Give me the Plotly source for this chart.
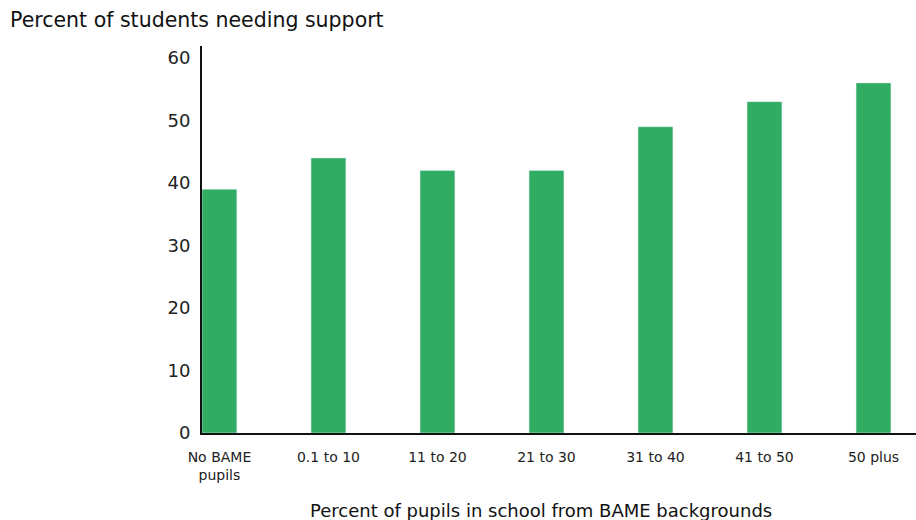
import plotly.graph_objects as go

categories = ["No BAME<br>pupils", "0.1 to 10", "11 to 20", "21 to 30", "31 to 40", "41 to 50", "50 plus"]
values = [39, 44, 42, 42, 49, 53, 56]
y_ticks = [0, 10, 20, 30, 40, 50, 60]

fig = go.Figure(go.Bar(
    x=categories, y=values, marker_color="#31ad63", width=0.32,
))

font_family = "DejaVu Sans"
L, T, B, W, H = 202, 46, 87, 916, 520
pw, ph = W - L, H - T - B

fig.update_layout(
    width=W, height=H,
    margin=dict(l=L, r=0, t=T, b=B),
    plot_bgcolor="white", paper_bgcolor="white",
    font=dict(family=font_family, color="#111"),
    showlegend=False,
    xaxis=dict(
        range=[-0.16, 6.39], showline=True, linecolor="#111", linewidth=2,
        showgrid=False, ticks="", tickfont=dict(size=14, color="#222"),
        ticklabelstandoff=10,
    ),
    yaxis=dict(
        range=[0, 61.9], showline=True, linecolor="#111", linewidth=2,
        showgrid=False, zeroline=False, ticks="", tickvals=y_ticks,
        tickfont=dict(size=18, color="#222"), ticklabelstandoff=6,
    ),
    annotations=[
        dict(text="Percent of students needing support",
             xref="paper", yref="paper", x=(8 - L) / pw, y=(H - 20 - B) / ph,
             showarrow=False, font=dict(size=20.5, color="#111"), xanchor="left", yanchor="middle"),
        dict(text="Percent of pupils in school from BAME backgrounds",
             xref="paper", yref="paper", x=(541 - L) / pw, y=(H - 510 - B) / ph,
             showarrow=False, font=dict(size=18, color="#111"), xanchor="center", yanchor="middle"),
    ],
)

fig.write_html("out.html", post_script="document.body.style.margin='0';",
               config={"displayModeBar": False})
